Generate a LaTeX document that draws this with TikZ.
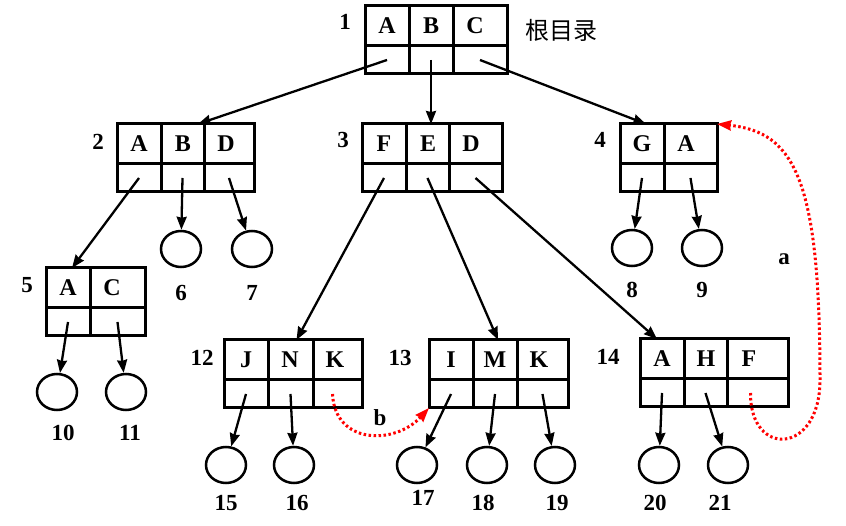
\documentclass[tikz,border=0pt]{standalone}
\usepackage{fontspec}
\setmainfont{Liberation Serif}
\newfontfamily\cjk{Noto Sans CJK SC}
\usetikzlibrary{arrows.meta,shapes.geometric,positioning}

\tikzset{
  cellbox/.style={draw,rectangle,line width=3pt,inner sep=0pt,outer sep=0pt},
  letter/.style={font=\fontsize{24}{26}\selectfont\bfseries,inner sep=0pt},
  num/.style={font=\fontsize{23}{25}\selectfont\bfseries,inner sep=0pt},
  leaf/.style={draw,ellipse,line width=2.5pt,minimum width=40pt,minimum height=36pt,inner sep=0pt},
  ptr/.style={-{Stealth[length=13pt,width=10pt,inset=1pt]},line width=2.3pt},
  link/.style={-{Stealth[length=14pt,width=10pt,inset=1pt]},red,line width=3pt,dash pattern=on 2.5pt off 2.5pt},
}

% #1 name, #2 x, #3 y, #4 letter/width list
\newcommand{\dirbox}[4]{%
  \foreach \l/\w [count=\i, remember=\nx as \px (initially 0)] in {#4} {
    \pgfmathsetmacro{\nx}{\px+\w}
    \node[cellbox,minimum width=\w,minimum height=40,anchor=north west] (#1-\i) at (#2+\px,#3) {};
    \node[cellbox,minimum width=\w,minimum height=28,anchor=north west] (#1-p\i) at (#2+\px,#3+40) {};
    \node[letter] (#1-l\i) at (#2+\px+22,#3+20) {\l};
  }
}

\begin{document}
\begin{tikzpicture}[x=1pt,y=-1pt]
  \useasboundingbox (0,0) rectangle (846,526);

  % directory blocks
  \dirbox{b1}{365}{6}{A/44,B/44,C/54}
  \dirbox{b2}{117}{124}{A/44,B/43,D/50}
  \dirbox{b3}{362}{124}{F/44,E/43,D/53}
  \dirbox{b4}{620}{124}{G/44,A/53}
  \dirbox{b5}{46}{268}{A/44,C/55}
  \dirbox{b12}{224}{340}{J/44,N/45,K/49}
  \dirbox{b13}{429}{340}{I/44,M/44,K/51}
  \dirbox{b14}{640}{339}{A/44,H/43,F/61}

  \foreach \n/\x/\y in {1/345/22,2/98/142,3/343/140,4/600/140,5/27/285,12/202/358,13/400/358,14/608/357}
    \node[num] (l\n) at (\x,\y) {\n};
  \node[font=\fontsize{24}{26}\selectfont\cjk] (root) at (561,30) {根目录};

  % files
  \foreach \n/\x/\y/\lx/\ly in {6/181/249/181/293,7/252/249/252/293,8/632/248/632/290,9/702/248/702/290,
      10/57/392/63/433,11/126/392/130/433,15/226/465/226/503,16/294/465/297/503,17/417/465/423/498,
      18/487/465/483/503,19/555/465/557/503,20/659/465/655/503,21/728/465/720/503} {
    \node[leaf] (c\n) at (\x,\y) {};
    \node[num] (n\n) at (\lx,\ly) {\n};
  }

  \draw[ptr] (b1-p1.center) -- ([xshift=-6pt]b2-2.north east);
  \draw[ptr] (b1-p2.center) -- (b1-p2.center |- b3-2.north);
  \draw[ptr] (b1-p3.center) -- ([xshift=4pt]b4-1.north);
  \draw[ptr] (b2-p1.center) -- ([xshift=4pt]b5-1.north);
  \draw[ptr] (b2-p2.center) -- (c6);
  \draw[ptr] (b2-p3.center) -- (c7);
  \draw[ptr] (b3-p1.center) -- ([xshift=6pt]b12-2.north);
  \draw[ptr] (b3-p2.center) -- ([xshift=3pt]b13-2.north);
  \draw[ptr] (b3-p3.center) -- ([xshift=-5pt]b14-1.north);
  \draw[ptr] (b4-p1.center) -- (c8);
  \draw[ptr] (b4-p2.center) -- (c9);
  \draw[ptr] (b5-p1.center) -- (c10);
  \draw[ptr] (b5-p2.center) -- (c11);
  \draw[ptr] (b12-p1.center) -- (c15);
  \draw[ptr] (b12-p2.center) -- (c16);
  \draw[ptr] (b13-p1.center) -- (c17);
  \draw[ptr] (b13-p2.center) -- (c18);
  \draw[ptr] (b13-p3.center) -- (c19);
  \draw[ptr] (b14-p1.center) -- (c20);
  \draw[ptr] (b14-p2.center) -- (c21);

  % links
  \draw[link] ([xshift=-7pt]b14-p3.center) .. controls (750,458) and (820,455) .. (820,380)
    .. controls (820,180) and (795,132) .. (b4-2.north east);
  \node[num] (la) at (784,259) {a};
  \draw[link] ([xshift=-5pt]b12-p3.center) .. controls (335,445) and (395,445) .. (b13-p1.south west);
  \node[num] (lb) at (380,418) {b};
\end{tikzpicture}
\end{document}
